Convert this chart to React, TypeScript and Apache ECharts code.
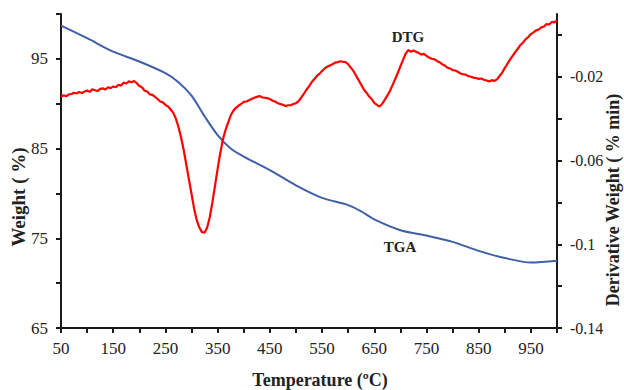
import React, { useEffect, useRef } from "react";
import * as echarts from "echarts";

// Temperature (°C) and TGA weight (%)
const tgaTemp = [50, 100, 150, 200, 250, 275, 300, 325, 350, 375, 400, 450, 500, 550, 600, 625, 650, 700, 750, 800, 850, 900, 950, 1000];
const tgaWeight = [98.7, 97.3, 95.8, 94.7, 93.4, 92.4, 90.9, 88.6, 86.5, 85.0, 84.1, 82.6, 80.9, 79.5, 78.7, 78.0, 77.1, 75.9, 75.3, 74.6, 73.6, 72.8, 72.3, 72.5];

// DTG derivative weight (%/min), sampled every 5 °C from 50 to 1000 °C
const dtgStart = 50;
const dtgStep = 5;
const dtgValue = [
  -0.0296, -0.0288, -0.0293, -0.0284, -0.0282, -0.0276, -0.0280, -0.0272, -0.0278, -0.0270,
  -0.0266, -0.0272, -0.0260, -0.0264, -0.0268, -0.0258, -0.0255, -0.0261, -0.0250, -0.0254,
  -0.0246, -0.0250, -0.0238, -0.0242, -0.0228, -0.0232, -0.0222, -0.0226, -0.0220, -0.0230,
  -0.0244, -0.0250, -0.0266, -0.0270, -0.0284, -0.0286, -0.0296, -0.0306, -0.0318, -0.0322,
  -0.0334, -0.0342, -0.0356, -0.0372, -0.0400, -0.0440, -0.0490, -0.0550, -0.0620, -0.0690,
  -0.0760, -0.0830, -0.0885, -0.0920, -0.0942, -0.0945, -0.0920, -0.0870, -0.0800, -0.0720,
  -0.0640, -0.0565, -0.0500, -0.0455, -0.0420, -0.0385, -0.0362, -0.0348, -0.0338, -0.0330,
  -0.0320, -0.0318, -0.0312, -0.0306, -0.0300, -0.0296, -0.0292, -0.0298, -0.0300, -0.0302,
  -0.0306, -0.0314, -0.0318, -0.0326, -0.0330, -0.0334, -0.0340, -0.0336, -0.0336, -0.0330,
  -0.0326, -0.0316, -0.0300, -0.0282, -0.0262, -0.0246, -0.0226, -0.0212, -0.0196, -0.0186,
  -0.0172, -0.0160, -0.0152, -0.0146, -0.0140, -0.0132, -0.0130, -0.0126, -0.0128, -0.0130,
  -0.0140, -0.0156, -0.0172, -0.0194, -0.0216, -0.0238, -0.0260, -0.0276, -0.0294, -0.0306,
  -0.0325, -0.0334, -0.0342, -0.0330, -0.0310, -0.0290, -0.0268, -0.0240, -0.0212, -0.0182,
  -0.0150, -0.0120, -0.0090, -0.0072, -0.0080, -0.0074, -0.0080, -0.0086, -0.0094, -0.0090,
  -0.0100, -0.0108, -0.0114, -0.0116, -0.0124, -0.0130, -0.0140, -0.0146, -0.0156, -0.0160,
  -0.0168, -0.0170, -0.0176, -0.0184, -0.0188, -0.0190, -0.0196, -0.0200, -0.0204, -0.0206,
  -0.0210, -0.0208, -0.0214, -0.0218, -0.0222, -0.0216, -0.0220, -0.0212, -0.0196, -0.0180,
  -0.0158, -0.0138, -0.0118, -0.0100, -0.0082, -0.0066, -0.0048, -0.0036, -0.0020, -0.0010,
  0.0004, 0.0012, 0.0022, 0.0026, 0.0036, 0.0040, 0.0052, 0.0050, 0.0062, 0.0060,
  0.0070,
];
const dtgTemp = dtgValue.map((_, i) => dtgStart + i * dtgStep);

// Axis tick / label values
const xLabelValues = [50, 150, 250, 350, 450, 550, 650, 750, 850, 950];
const xTickValues = [50, 100, 150, 200, 250, 300, 350, 400, 450, 500, 550, 600, 650, 700, 750, 800, 850, 900, 950, 1000];
const leftLabelValues = [65, 75, 85, 95];
const leftTickValues = [65, 70, 75, 80, 85, 90, 95, 100];
const rightLabelValues = [-0.14, -0.1, -0.06, -0.02];
const rightTickValues = [-0.14, -0.12, -0.1, -0.08, -0.06, -0.04, -0.02, 0];

const FONT = "'Liberation Serif', 'Times New Roman', serif";
const AXIS_COLOR = "#1a1a1a";
const TEXT_COLOR = "#222";

export default function App() {
  const ref = useRef<HTMLDivElement>(null);

  useEffect(() => {
    if (!ref.current) return;
    const chart = echarts.init(ref.current, undefined, { renderer: "svg" });
    const axisLine = { show: true, lineStyle: { color: AXIS_COLOR, width: 2 } };
    chart.setOption({
      animation: false,
      backgroundColor: "#ffffff",
      grid: { left: 61, right: 67, top: 14, bottom: 62, containLabel: false, outerBoundsMode: "none" },
      xAxis: {
        type: "value",
        min: 50,
        max: 1000,
        axisLine: { ...axisLine, onZero: false },
        axisTick: { show: true, length: 5, lineStyle: { color: AXIS_COLOR, width: 2 }, customValues: xTickValues },
        axisLabel: { customValues: xLabelValues, margin: 12, fontFamily: FONT, fontSize: 17, color: TEXT_COLOR },
        splitLine: { show: false },
      },
      yAxis: [
        {
          type: "value",
          min: 65,
          max: 100,
          position: "left",
          axisLine,
          axisTick: { show: true, length: 5, lineStyle: { color: AXIS_COLOR, width: 2 }, customValues: leftTickValues },
          axisLabel: { customValues: leftLabelValues, margin: 13, fontFamily: FONT, fontSize: 17, color: TEXT_COLOR },
          splitLine: { show: false },
        },
        {
          type: "value",
          min: -0.14,
          max: 0.01,
          position: "right",
          axisLine,
          axisTick: { show: true, length: 5, lineStyle: { color: AXIS_COLOR, width: 2 }, customValues: rightTickValues },
          axisLabel: { customValues: rightLabelValues, margin: 13, fontFamily: FONT, fontSize: 16, color: TEXT_COLOR },
          splitLine: { show: false },
        },
      ],
      series: [
        {
          name: "TGA",
          type: "line",
          yAxisIndex: 0,
          data: tgaTemp.map((t, i) => [t, tgaWeight[i]]),
          showSymbol: false,
          smooth: 0.3,
          lineStyle: { color: "#3f5fa6", width: 2 },
          z: 2,
        },
        {
          name: "DTG",
          type: "line",
          yAxisIndex: 1,
          data: dtgTemp.map((t, i) => [t, dtgValue[i]]),
          showSymbol: false,
          lineStyle: { color: "#ff0000", width: 2.2 },
          z: 3,
        },
      ],
      graphic: [
        {
          type: "text",
          x: 18,
          y: 197,
          rotation: Math.PI / 2,
          style: { text: "Weight ( %)", fontFamily: FONT, fontWeight: "bold", fontSize: 19, fill: TEXT_COLOR, align: "center", verticalAlign: "middle" },
        },
        {
          type: "text",
          x: 613,
          y: 200,
          rotation: Math.PI / 2,
          style: { text: "Derivative Weight ( % min)", fontFamily: FONT, fontWeight: "bold", fontSize: 18, fill: TEXT_COLOR, align: "center", verticalAlign: "middle" },
        },
        {
          type: "text",
          x: 320,
          y: 380,
          style: { text: "Temperature (ºC)", fontFamily: FONT, fontWeight: "bold", fontSize: 18, fill: TEXT_COLOR, align: "center", verticalAlign: "middle" },
        },
        {
          type: "text",
          x: 408,
          y: 37,
          style: { text: "DTG", fontFamily: FONT, fontWeight: "bold", fontSize: 15, fill: TEXT_COLOR, align: "center", verticalAlign: "middle" },
        },
        {
          type: "text",
          x: 400,
          y: 247,
          style: { text: "TGA", fontFamily: FONT, fontWeight: "bold", fontSize: 15, fill: TEXT_COLOR, align: "center", verticalAlign: "middle" },
        },
      ],
    });
    return () => chart.dispose();
  }, []);

  return (
    <div
      ref={ref}
      style={{ position: "absolute", left: 0, top: 0, width: 624, height: 390, background: "#fff" }}
    />
  );
}
